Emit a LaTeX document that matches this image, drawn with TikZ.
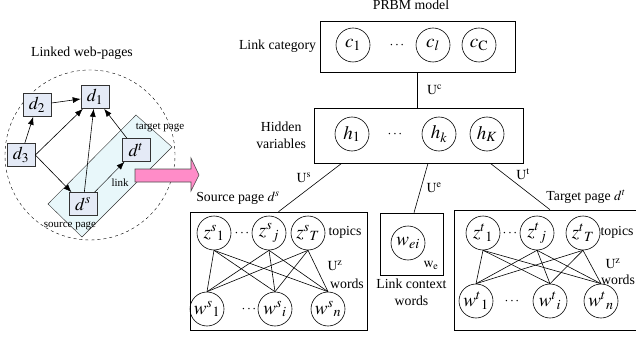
\documentclass[tikz,border=0pt]{standalone}
\usepackage{mathptmx}
\usepackage{fontspec}
\setmainfont{Liberation Serif}
\usepackage{tikz}
\usetikzlibrary{arrows.meta,positioning,calc}
\definecolor{pagefill}{RGB}{228,234,246}
\definecolor{linkfill}{RGB}{232,247,250}
\definecolor{bigpink}{RGB}{255,140,200}

\begin{document}
\begin{tikzpicture}[x=1pt, y=-1pt, >={Latex[length=8pt,width=6pt]}, semithick, font=\rmfamily\fontsize{13.8}{17}\selectfont]
	\tikzstyle{page}=[draw=black!80, fill=pagefill, minimum width=28pt, minimum height=23pt, inner sep=0pt, font=\fontsize{18}{20}\selectfont]
	\tikzstyle{unit}=[draw, circle, minimum size=34pt, inner sep=0pt, font=\fontsize{19}{20}\selectfont]
	\tikzstyle{layer}=[draw, rectangle, inner sep=0pt]
	\tikzstyle{small}=[font=\fontsize{11}{13}\selectfont]
	\useasboundingbox (0,0) rectangle (636,339);

	% linked web-pages
	\node (title) at (82,53) {Linked web-pages};
	\draw[dashed, thin] (90,155) circle (85pt);
	\filldraw[fill=linkfill, draw=black!80, thin] (136,115) -- (172,147) -- (82,237) -- (48,204) -- cycle;
	\node[page] (d1) at (95,97)  {$d_1$};
	\node[page] (d2) at (37,105) {$d_2$};
	\node[page] (d3) at (21,155) {$d_3$};
	\node[page] (dt) at (136,150) {$d^t$};
	\node[page] (ds) at (83,204) {$d^s$};
	\node[small] (tpage) at (160,128) {target page};
	\node[small] (spage) at (70,226) {source page};
	\path[->]
	(d2) edge (d1)
	(d3) edge (d2)
	(d3.east) edge (d1)
	(d3.east) edge (ds)
	(ds) edge (d1)
	(dt) edge (d1)
	(ds) edge[thin] node[small, below right=-2pt] {link} (dt);
	\filldraw[fill=bigpink, draw=black!70] (135,169) -- (191,169) -- (191,158) -- (199,175) -- (191,191) -- (191,182) -- (135,182) -- cycle;

	% PRBM model
	\node (prbm) at (411,5) {PRBM model};
	\node[layer, minimum width=195pt, minimum height=51pt] (cat) at (417.5,46.5) {};
	\node[left=0pt of cat] {Link category};
	\node[unit] (c1) at (353,45) {$c_1$};
	\node (cdots) at (397,45) {$\cdots$};
	\node[unit] (cl) at (433,45) {$c_l$};
	\node[unit] (cC) at (479,45) {$c_{\mathrm{C}}$};

	\node[layer, minimum width=209pt, minimum height=55pt] (hid) at (418.5,135.5) {};
	\node[left=4pt of hid, align=center] {Hidden\\variables};
	\node[unit] (h1) at (352,134) {$h_1$};
	\node (hdots) at (395,134) {$\cdots$};
	\node[unit] (hk) at (439,134) {$h_k$};
	\node[unit] (hK) at (487,134) {$h_K$};

	\draw (cat.south) -- (cat.south |- hid.north) node[midway, right=6pt] {$\mathrm{U}^{\mathrm{c}}$};

	% source page
	\node[layer, minimum width=177pt, minimum height=118pt] (src) at (278.5,271) {};
	\node (srctxt) at (238,198) {Source page $d^s$};
	\node[unit] (zs1) at (214,233) {$z^{s}{}_{1}$};
	\node (zsdots) at (242,233) {$\cdots$};
	\node[unit] (zsj) at (269,233) {$z^{s}{}_{j}$};
	\node[unit] (zsT) at (308,233) {$z^{s}{}_{T}$};
	\node[unit] (ws1) at (207,309) {$w^{s}{}_{1}$};
	\node (wsdots) at (249,309) {$\cdots$};
	\node[unit] (wsi) at (275,309) {$w^{s}{}_{i}$};
	\node[unit] (wsn) at (328,309) {$w^{s}{}_{n}$};
	\node (stopics) at (345,232) {topics};
	\node (suz) at (335,266) {$\mathrm{U}^{\mathrm{z}}$};
	\node (swords) at (347,284) {words};
	\path
	(zs1.south) edge (ws1.north) (zs1.south) edge (wsi.north) (zs1.south) edge (wsn.north)
	(zsj.south) edge (ws1.north) (zsj.south) edge (wsi.north) (zsj.south) edge (wsn.north)
	(zsT.south) edge (ws1.north) (zsT.south) edge (wsi.north) (zsT.south) edge (wsn.north);

	% link context
	\node[layer, minimum width=63pt, minimum height=62pt] (lce) at (411.5,244) {};
	\node[unit] (wei) at (408,243) {$w_{ei}$};
	\node (we) at (431,265) {$\mathrm{w}_{\mathrm{e}}$};
	\node[below=0pt of lce, align=center] {Link context\\words};

	% target page
	\node[layer, minimum width=186pt, minimum height=120pt] (tgt) at (547,270) {};
	\node (tgttxt) at (586,197) {Target page $d^t$};
	\node[unit] (zt1) at (483,233) {$z^{t}{}_{1}$};
	\node (ztdots) at (510,233) {$\cdots$};
	\node[unit] (ztj) at (537,233) {$z^{t}{}_{j}$};
	\node[unit] (ztT) at (583,233) {$z^{t}{}_{T}$};
	\node[unit] (wt1) at (476,301) {$w^{t}{}_{1}$};
	\node (wtdots) at (512,301) {$\cdots$};
	\node[unit] (wti) at (550,301) {$w^{t}{}_{i}$};
	\node[unit] (wtn) at (601,301) {$w^{t}{}_{n}$};
	\node (ttopics) at (617,232) {topics};
	\node (tuz) at (613,264) {$\mathrm{U}^{\mathrm{z}}$};
	\node (twords) at (618,280) {words};
	\path
	(zt1.south) edge (wt1.north) (zt1.south) edge (wti.north) (zt1.south) edge (wtn.north)
	(ztj.south) edge (wt1.north) (ztj.south) edge (wti.north) (ztj.south) edge (wtn.north)
	(ztT.south) edge (wt1.north) (ztT.south) edge (wti.north) (ztT.south) edge (wtn.north);

	% weights from hidden layer
	\draw ([xshift=28pt]hid.south west) -- (src.north) node[pos=0.45, above left=-2pt] {$\mathrm{U}^{\mathrm{s}}$};
	\draw ([xshift=9.5pt]hid.south) -- ([xshift=2.5pt]lce.north) node[midway, right=2pt] {$\mathrm{U}^{\mathrm{e}}$};
	\draw ([xshift=-33pt]hid.south east) -- ([xshift=3pt]tgt.north) node[pos=0.4, above right=-2pt] {$\mathrm{U}^{\mathrm{t}}$};
\end{tikzpicture}
\end{document}
